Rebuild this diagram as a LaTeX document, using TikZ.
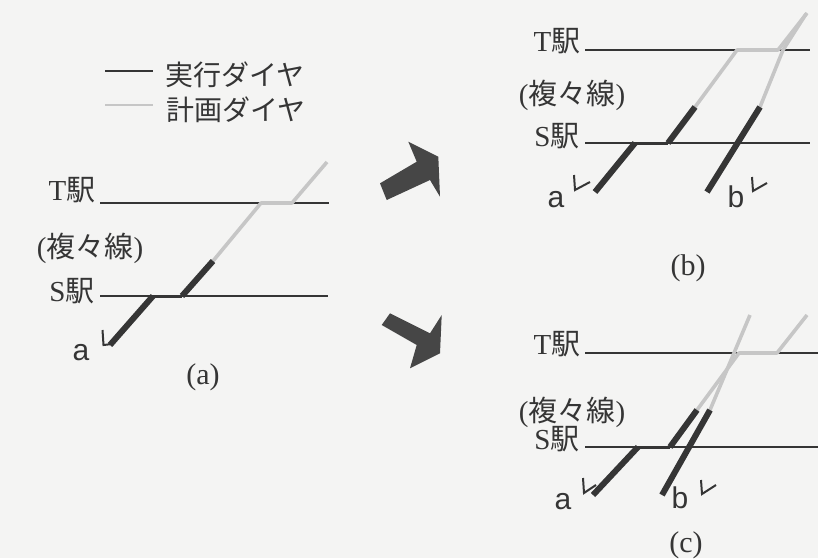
\documentclass[tikz,border=0pt]{standalone}
\usepackage{fontspec}
\setmainfont{Liberation Serif}
\newfontfamily\jp{Noto Sans CJK JP}
\newfontfamily\lsans{Liberation Sans}
\definecolor{bg}{HTML}{F4F4F3}
\definecolor{ink}{HTML}{353535}
\definecolor{plan}{HTML}{C6C6C6}
\definecolor{arrowc}{HTML}{464646}
\tikzset{
  lab/.style={text=ink, inner sep=0pt, font=\fontsize{29}{29}\selectfont},
  letter/.style={text=ink, inner sep=0pt, font=\lsans\fontsize{30}{30}\selectfont},
  captext/.style={text=ink, inner sep=0pt, font=\fontsize{30}{30}\selectfont},
  legtext/.style={text=ink, inner sep=0pt, anchor=west, font=\jp\fontsize{28}{28}\selectfont},
  stline/.style={draw=ink, line width=1.8pt},
  actual/.style={draw=ink, line width=6pt, line cap=butt},
  dwell/.style={draw=ink, line width=3pt},
  planned/.style={draw=plan, line width=3.6pt, line join=round},
  hook/.style={draw=ink, line width=2pt, line join=miter},
  bigarrow/.style={fill=arrowc, draw=none},
}
\begin{document}
\begin{tikzpicture}[x=1pt, y=-1pt]
\fill[bg] (0,0) rectangle (818,558);
\useasboundingbox (0,0) rectangle (818,558);

% ---------- legend ----------
\coordinate (lk1) at (105,71); \coordinate (lk2) at (153,71);
\coordinate (lp1) at (105,105); \coordinate (lp2) at (153,105);
\draw[draw=ink, line width=2.4pt] (lk1) -- (lk2);
\draw[draw=plan, line width=1.6pt] (lp1) -- (lp2);
\node[legtext] (legA) at (165,75) {実行ダイヤ};
\node[legtext] (legB) at (166,110) {計画ダイヤ};

% ---------- panel (a) ----------
\node[lab] (aT) at (72,190) {T{\jp 駅}};
\node[lab] (aF) at (90,248) {({\jp 複々線})};
\node[lab] (aS) at (72,291) {S{\jp 駅}};
\coordinate (aT1) at (100,203); \coordinate (aT2) at (329,203);
\coordinate (aS1) at (100,296); \coordinate (aS2) at (328,296);
\draw[stline] (aT1) -- (aT2);
\draw[stline] (aS1) -- (aS2);
\coordinate (a0) at (110,345); \coordinate (a1) at (153,296);
\coordinate (a2) at (182,296); \coordinate (a3) at (213,261);
\coordinate (a4) at (261,203); \coordinate (a5) at (292,203);
\coordinate (a6) at (327,162);
\draw[planned] (a3) -- (a4) -- (a5) -- (a6);
\draw[actual] (a0) -- (a1);
\draw[dwell] (a1) -- (a2);
\draw[actual] (a2) -- (a3);
\draw[hook] (102.5,330) -- (103.5,345) -- (112,344);
\node[letter] (aa) at (81,353) {a};
\node[captext] (capA) at (203,377) {(a)};

% ---------- arrows ----------
\fill[bigarrow] (380,183.3) -- (416.7,161.7) -- (408.3,141.7) -- (438.3,156.7)
  -- (440,196.7) -- (430,180) -- (386.7,200) -- cycle;
\fill[bigarrow] (381.7,325) -- (390,313.3) -- (430,333.3) -- (441.7,315)
  -- (440,353.3) -- (410,368.3) -- (416.7,345) -- cycle;

% ---------- panel (b) ----------
\node[lab] (bT) at (557,41) {T{\jp 駅}};
\node[lab] (bF) at (572,95) {({\jp 複々線})};
\node[lab] (bS) at (557,136) {S{\jp 駅}};
\coordinate (bT1) at (585,50); \coordinate (bT2) at (810,50);
\coordinate (bS1) at (585,143); \coordinate (bS2) at (810,143);
\draw[stline] (bT1) -- (bT2);
\draw[stline] (bS1) -- (bS2);
\coordinate (ba0) at (595,192); \coordinate (ba1) at (635,143);
\coordinate (ba2) at (668,143); \coordinate (ba3) at (695,107);
\coordinate (ba4) at (737,50); \coordinate (ba5) at (778,50);
\coordinate (ba6) at (807,13);
\coordinate (bb0) at (707,192); \coordinate (bb1) at (760,107);
\coordinate (bb2) at (783,50); \coordinate (bb3) at (806,14);
\draw[planned] (ba3) -- (ba4) -- (ba5) -- (ba6);
\draw[planned] (bb1) -- (bb2) -- (bb3);
\draw[actual] (ba0) -- (ba1);
\draw[dwell] (ba1) -- (ba2);
\draw[actual] (ba2) -- (ba3);
\draw[actual] (bb0) -- (bb1);
\draw[hook] (574,175) -- (575,190) -- (590,182);
\draw[hook] (752,177) -- (753,191) -- (767,183);
\node[letter] (ba) at (556,200) {a};
\node[letter] (bb) at (736,197) {b};
\node[captext] (capB) at (688,268) {(b)};

% ---------- panel (c) ----------
\node[lab] (cT) at (557,344) {T{\jp 駅}};
\node[lab] (cF) at (572,412) {({\jp 複々線})};
\node[lab] (cS) at (557,439) {S{\jp 駅}};
\coordinate (cT1) at (585,353); \coordinate (cT2) at (818,353);
\coordinate (cS1) at (585,447); \coordinate (cS2) at (818,447);
\draw[stline] (cT1) -- (cT2);
\draw[stline] (cS1) -- (cS2);
\coordinate (ca0) at (593,495); \coordinate (ca1) at (638,447);
\coordinate (ca2) at (670,447); \coordinate (ca3) at (697,410);
\coordinate (ca4) at (739,353); \coordinate (ca5) at (777,353);
\coordinate (ca6) at (807,315);
\coordinate (cb0) at (662,495); \coordinate (cb1) at (710,410);
\coordinate (cb2) at (750,315);
\draw[planned] (ca3) -- (ca4) -- (ca5) -- (ca6);
\draw[planned] (cb1) -- (cb2);
\draw[actual] (ca0) -- (ca1);
\draw[dwell] (ca1) -- (ca2);
\draw[actual] (ca2) -- (ca3);
\draw[actual] (cb0) -- (cb1);
\draw[hook] (583,478) -- (584,493) -- (596,485);
\draw[hook] (701,480) -- (702,494) -- (716,485);
\node[letter] (ca) at (563,502) {a};
\node[letter] (cb) at (680,498) {b};
\node[captext] (capC) at (686,545) {(c)};
\end{tikzpicture}
\end{document}
